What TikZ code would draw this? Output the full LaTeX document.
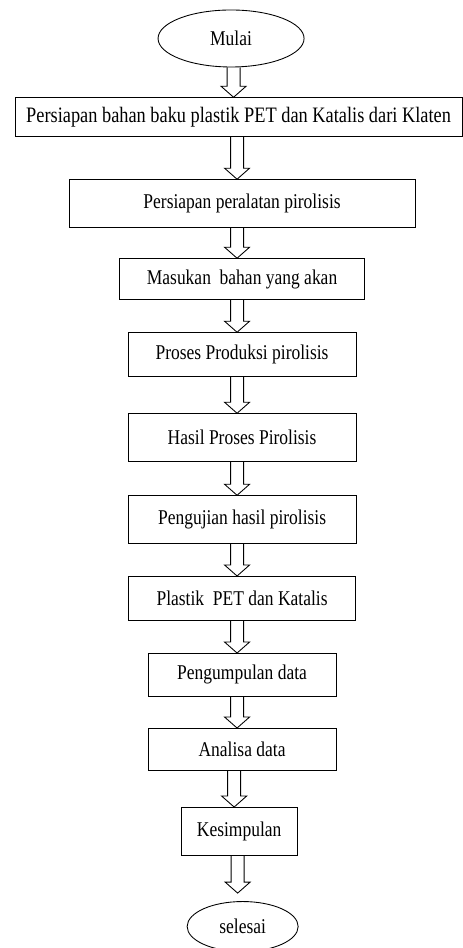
\documentclass[tikz,border=0pt]{standalone}
\usepackage{fontspec}
\setmainfont{Liberation Serif}[FakeStretch=0.833]
\usetikzlibrary{shapes.geometric, calc}
\newcommand{\pu}{0.686pt}
\tikzstyle{terminal} = [ellipse, 
draw=black, 
line width=0.6pt, 
inner sep=0pt, 
text centered, 
font=\fontsize{14.4}{16}\selectfont]
\tikzstyle{process} = [rectangle, 
draw=black, 
line width=0.6pt, 
inner sep=0pt, 
text centered, 
font=\fontsize{14.4}{16}\selectfont]
\tikzstyle{arrow} = [draw, line width=0.6pt, 
to path={let \p1=(\tikztostart), \p2=(\tikztotarget) in
(\x2-11.5*\pu,\y1) -- (\x2-11.5*\pu,\y2+11*\pu) -- (\x2-17.5*\pu,\y2+11*\pu) -- (\x2-5*\pu,\y2)
-- (\x2+7.5*\pu,\y2+11*\pu) -- (\x2+1.5*\pu,\y2+11*\pu) -- (\x2+1.5*\pu,\y1)}]

\begin{document}
\begin{tikzpicture}[node distance=54pt]
        \useasboundingbox (0,0) rectangle (317.6pt,-650.3pt);
        \node (mulai) [terminal, minimum width=146*\pu, minimum height=57*\pu] at (158.5pt,-26.4pt) {Mulai};
        \node (bahan) [process, below of=mulai, xshift=5.15pt, minimum width=447*\pu, minimum height=39*\pu, font=\fontsize{15.1}{16}\selectfont] {Persiapan bahan baku plastik PET dan Katalis dari Klaten};
        \node (alat) [process, below of=bahan, xshift=2.4pt, yshift=-5.3pt, minimum width=346*\pu, minimum height=48*\pu] {Persiapan peralatan pirolisis};
        \node (masuk) [process, below of=alat, yshift=2.2pt, minimum width=245*\pu, minimum height=41*\pu] {Masukan~ bahan yang akan};
        \node (produksi) [process, below of=masuk, yshift=2.2pt, minimum width=228*\pu, minimum height=44*\pu] {Proses Produksi pirolisis};
        \node (hasil) [process, below of=produksi, yshift=-2.95pt, minimum width=228*\pu, minimum height=48*\pu] {Hasil Proses Pirolisis};
        \node (uji) [process, below of=hasil, yshift=-2.26pt, minimum width=228*\pu, minimum height=48*\pu] {Pengujian hasil pirolisis};
        \node (plastik) [process, below of=uji, minimum width=227*\pu, minimum height=44*\pu] {Plastik~ PET dan Katalis};
        \node (kumpul) [process, below of=plastik, yshift=1.5pt, minimum width=188*\pu, minimum height=43*\pu] {Pengumpulan data};
        \node (analisa) [process, below of=kumpul, yshift=2.9pt, minimum width=188*\pu, minimum height=42*\pu] {Analisa data};
        \node (simpul) [process, below of=analisa, xshift=-2pt, yshift=-2.26pt, minimum width=116*\pu, minimum height=48*\pu] {Kesimpulan};
        \node (selesai) [terminal, below of=simpul, xshift=2.4pt, yshift=-11.2pt, minimum width=111*\pu, minimum height=50*\pu] {selesai};
        \draw [arrow] (mulai.south) to (bahan.north);
        \draw [arrow] (bahan.south) to (alat.north);
        \draw [arrow] (alat.south) to (masuk.north);
        \draw [arrow] (masuk.south) to (produksi.north);
        \draw [arrow] (produksi.south) to (hasil.north);
        \draw [arrow] (hasil.south) to (uji.north);
        \draw [arrow] (uji.south) to (plastik.north);
        \draw [arrow] (plastik.south) to (kumpul.north);
        \draw [arrow] (kumpul.south) to (analisa.north);
        \draw [arrow] (analisa.south) to (simpul.north);
        \draw [arrow] (simpul.south) to ([yshift=8*\pu]selesai.north);
    \end{tikzpicture}
\end{document}
